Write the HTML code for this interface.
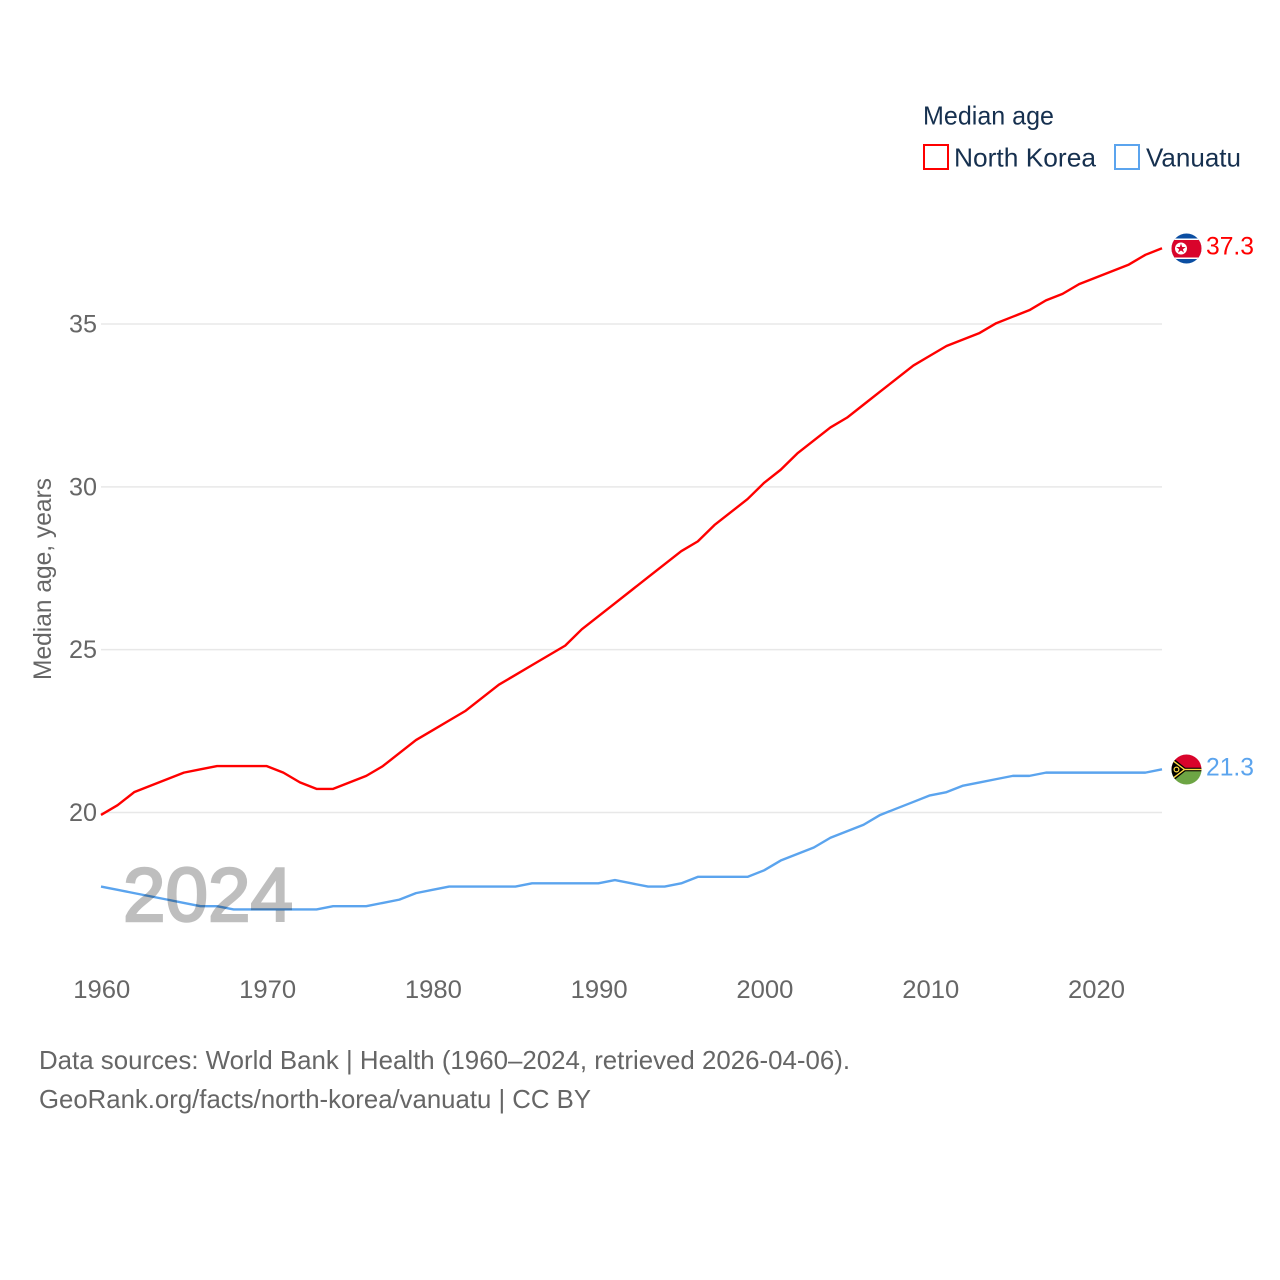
<!DOCTYPE html>
<html lang="en">
<head>
<meta charset="utf-8">
<title>Median age: North Korea and Vanuatu</title>
<style>
html,body{margin:0;padding:0;background:#fff;}
svg{display:block;font-family:"Liberation Sans",sans-serif;}
</style>
</head>
<body>
<svg id="chart" width="1280" height="1280" viewBox="0 0 1280 1280" xmlns="http://www.w3.org/2000/svg">
  <defs>
    <clipPath id="kp-clip"><circle cx="1186.5" cy="248.5" r="15"></circle></clipPath>
    <clipPath id="vu-clip"><circle cx="1186.5" cy="769.5" r="15"></circle></clipPath>
  </defs>
  <rect width="1280" height="1280" fill="#ffffff"></rect>
  <g id="grid"></g>
  <g id="y-ticks"></g>
  <g id="x-ticks"></g>
  <g id="series"></g>

  <text x="123" y="920.8" font-size="76" font-weight="400" fill="#000" stroke="#000" stroke-width="2.5" opacity="0.25" textLength="170" lengthAdjust="spacingAndGlyphs">2024</text>

  <text transform="translate(51 680) rotate(-90)" font-size="25" fill="#666" textLength="202" lengthAdjust="spacingAndGlyphs">Median age, years</text>

  <g>
    <text x="923" y="124.5" font-size="26" fill="#16304f" textLength="131" lengthAdjust="spacingAndGlyphs">Median age</text>
    <rect x="924" y="145" width="24" height="24" fill="#fff" stroke="#ff0000" stroke-width="2"></rect>
    <text x="954" y="166.5" font-size="26" fill="#16304f" textLength="142" lengthAdjust="spacingAndGlyphs">North Korea</text>
    <rect x="1115" y="145" width="24" height="24" fill="#fff" stroke="#5ba4ee" stroke-width="2"></rect>
    <text x="1146" y="166.5" font-size="26" fill="#16304f" textLength="95" lengthAdjust="spacingAndGlyphs">Vanuatu</text>
  </g>

  <g clip-path="url(#kp-clip)">
    <rect x="1170" y="232" width="34" height="34" fill="#0b4ea2"></rect>
    <rect x="1170" y="238.5" width="34" height="20.5" fill="#ffffff"></rect>
    <rect x="1170" y="240" width="34" height="17.5" fill="#d9042b"></rect>
    <circle cx="1181" cy="248.5" r="6" fill="#ffffff"></circle>
    <polygon points="1181,243.5 1182.2,247 1185.8,247 1182.9,249.2 1184,252.6 1181,250.5 1178,252.6 1179.1,249.2 1176.2,247 1179.8,247" fill="#d9042b"></polygon>
  </g>

  <g clip-path="url(#vu-clip)">
    <rect x="1170" y="753" width="34" height="16.5" fill="#d9042b"></rect>
    <rect x="1170" y="769.5" width="34" height="17" fill="#6da544"></rect>
    <rect x="1182" y="767.7" width="22" height="3.6" fill="#000000"></rect>
    <polygon points="1170,755.5 1187.5,769.5 1170,783.5" fill="#000000"></polygon>
    <rect x="1184" y="768.8" width="20" height="1.4" fill="#ffda44"></rect>
    <polyline points="1170,758.5 1184.5,769.5 1170,780.5" fill="none" stroke="#ffda44" stroke-width="1.4"></polyline>
    <circle cx="1176.5" cy="769.5" r="2.4" fill="none" stroke="#ffda44" stroke-width="1.2"></circle>
  </g>

  <g>
    <text x="39" y="1069" font-size="26" fill="#666" textLength="811" lengthAdjust="spacingAndGlyphs">Data sources: World Bank | Health (1960–2024, retrieved 2026-04-06).</text>
    <text x="39" y="1108" font-size="26" fill="#666" textLength="552" lengthAdjust="spacingAndGlyphs">GeoRank.org/facts/north-korea/vanuatu | CC BY</text>
  </g>
</svg>

<script>
const years = [1960,1961,1962,1963,1964,1965,1966,1967,1968,1969,1970,1971,1972,1973,1974,1975,1976,1977,1978,1979,1980,1981,1982,1983,1984,1985,1986,1987,1988,1989,1990,1991,1992,1993,1994,1995,1996,1997,1998,1999,2000,2001,2002,2003,2004,2005,2006,2007,2008,2009,2010,2011,2012,2013,2014,2015,2016,2017,2018,2019,2020,2021,2022,2023,2024];
const northKorea = [19.9,20.2,20.6,20.8,21.0,21.2,21.3,21.4,21.4,21.4,21.4,21.2,20.9,20.7,20.7,20.9,21.1,21.4,21.8,22.2,22.5,22.8,23.1,23.5,23.9,24.2,24.5,24.8,25.1,25.6,26.0,26.4,26.8,27.2,27.6,28.0,28.3,28.8,29.2,29.6,30.1,30.5,31.0,31.4,31.8,32.1,32.5,32.9,33.3,33.7,34.0,34.3,34.5,34.7,35.0,35.2,35.4,35.7,35.9,36.2,36.4,36.6,36.8,37.1,37.3];
const vanuatu = [17.7,17.6,17.5,17.4,17.3,17.2,17.1,17.1,17.0,17.0,17.0,17.0,17.0,17.0,17.1,17.1,17.1,17.2,17.3,17.5,17.6,17.7,17.7,17.7,17.7,17.7,17.8,17.8,17.8,17.8,17.8,17.9,17.8,17.7,17.7,17.8,18.0,18.0,18.0,18.0,18.2,18.5,18.7,18.9,19.2,19.4,19.6,19.9,20.1,20.3,20.5,20.6,20.8,20.9,21.0,21.1,21.1,21.2,21.2,21.2,21.2,21.2,21.2,21.2,21.3];
const yTickValues = [20,25,30,35];
const xTickValues = [1960,1970,1980,1990,2000,2010,2020];

const SVG_NS = 'http://www.w3.org/2000/svg';
const xScale = function (year) { return 101 + (year - 1960) * (1162 - 101) / 64; };
const yScale = function (value) { return 812.5 - (value - 20) * (812.5 - 324) / 15; };
const lineOffsetY = -0.8;

const make = function (tag, attrs, parent, text) {
  const el = document.createElementNS(SVG_NS, tag);
  Object.keys(attrs).forEach(function (k) { el.setAttribute(k, attrs[k]); });
  if (text !== undefined) { el.textContent = text; }
  parent.appendChild(el);
  return el;
};

const grid = document.getElementById('grid');
const yTicks = document.getElementById('y-ticks');
const xTicks = document.getElementById('x-ticks');
const seriesGroup = document.getElementById('series');

yTickValues.forEach(function (v) {
  const line = make('line', {x1: 101, x2: 1162, y1: yScale(v), y2: yScale(v), stroke: '#e8e8e8', 'stroke-width': 1.5}, grid);
  
  
  const label = make('text', {x: 97, y: yScale(v) + 8.5, 'font-size': 25, fill: '#666', 'text-anchor': 'end'}, yTicks, String(v));
  label.setAttribute('textLength', 28);
  label.setAttribute('lengthAdjust', 'spacingAndGlyphs');
  
  
});

xTickValues.forEach(function (v) {
  const label = make('text', {x: xScale(v) - 27.7, y: 998, 'font-size': 25, fill: '#666'}, xTicks, String(v));
  label.setAttribute('textLength', 57);
  label.setAttribute('lengthAdjust', 'spacingAndGlyphs');
  
  
});

const drawSeries = function (values, color, slug) {
  const points = values.map(function (v, i) { return xScale(years[i]).toFixed(2) + ',' + (yScale(v) + lineOffsetY).toFixed(2); }).join(' ');
  const line = make('polyline', {points: points, fill: 'none', stroke: color, 'stroke-width': 2.4, 'stroke-linejoin': 'round'}, seriesGroup);
  
  
  const last = values[values.length - 1];
  const label = make('text', {x: 1206, y: yScale(last) + 5.5, 'font-size': 25, fill: color}, seriesGroup, last.toFixed(1));
  label.setAttribute('textLength', 48);
  label.setAttribute('lengthAdjust', 'spacingAndGlyphs');
  
  
};

drawSeries(northKorea, '#ff0000', 'north-korea');
drawSeries(vanuatu, '#5ba4ee', 'vanuatu');
</script>
</body>
</html>
